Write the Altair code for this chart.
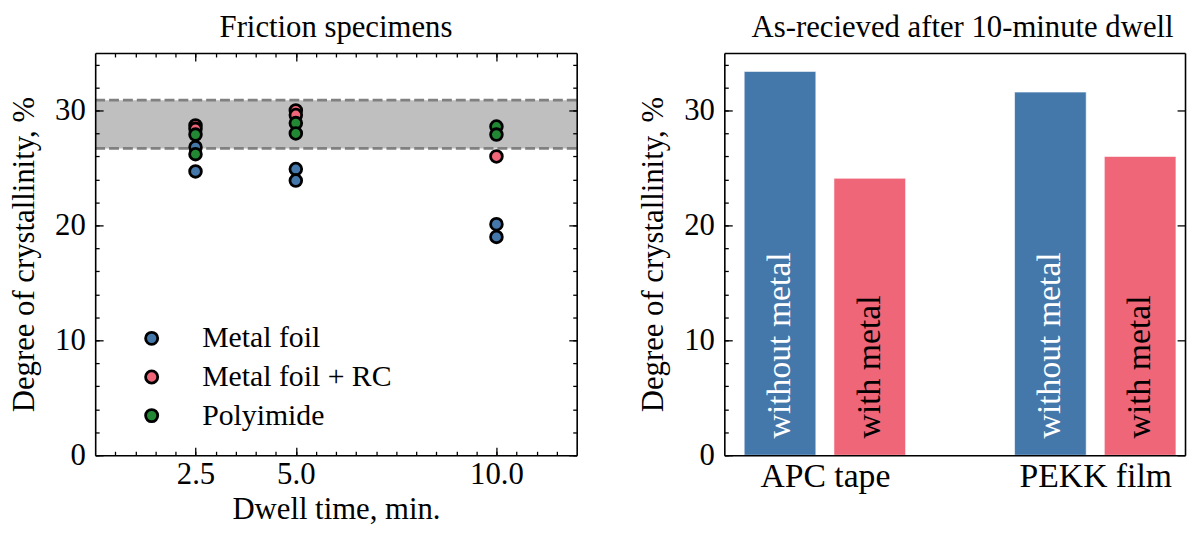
import json
import altair as alt
import pandas as pd

# ---------------- data ----------------
series_names = ["Metal foil", "Metal foil + RC", "Polyimide"]
series_colors = ["#4477AA", "#EE6677", "#228833"]

metal_foil_x = [2.5, 2.5, 5.0, 5.0, 10.0, 10.0]
metal_foil_y = [26.8, 24.7, 24.9, 23.9, 20.1, 19.0]
rc_x = [2.5, 2.5, 5.0, 5.0, 10.0]
rc_y = [28.7, 28.4, 30.0, 29.6, 26.0]
polyimide_x = [2.5, 2.5, 5.0, 5.0, 10.0, 10.0]
polyimide_y = [27.9, 26.2, 28.9, 28.0, 28.6, 27.9]

band_limits = [26.7, 30.9]
dwell_ticks = [2.5, 5.0, 10.0]
y_ticks = [0, 10, 20, 30]

groups = ["APC tape", "PEKK film"]
bar_series = ["without metal", "with metal"]
without_metal = [33.4, 31.6]
with_metal = [24.1, 26.0]
bar_colors = ["#4477AA", "#EE6677"]
bar_text_colors = ["white", "black"]

# ---------------- tables ----------------
rows = []
for name, xs_, ys_ in zip(series_names, [metal_foil_x, rc_x, polyimide_x],
                          [metal_foil_y, rc_y, polyimide_y]):
    for xv, yv in zip(xs_, ys_):
        rows.append({"series": name, "dwell": xv, "value": yv})
pts_df = pd.DataFrame(rows)
band_df = pd.DataFrame({"lo": [band_limits[0]], "hi": [band_limits[1]]})
line_df = pd.DataFrame({"y": band_limits})

brows = []
for gi, g in enumerate(groups):
    for si, (s, vals) in enumerate(zip(bar_series, [without_metal, with_metal])):
        brows.append({"group": g, "gi": gi, "series": s, "si": si, "value": vals[gi]})
bar_df = pd.DataFrame(brows)

# ---------------- layout constants ----------------
FONT = "Liberation Serif"
W1, W2, H = 486, 465, 406
BAR_OFF, BAR_HALF = 0.166, 0.1325

ys = alt.Scale(domain=[0, 35], nice=False, zero=False)
xs1 = alt.Scale(domain=[0, 12], nice=False, zero=False)
xs2 = alt.Scale(domain=[-0.372, 1.332], nice=False, zero=False)

minor_x = [0.5 * i for i in range(1, 24)]
minor_y = list(range(0, 36, 2))


def inward(orient, offset, values=None, size=8, domain=False, ticks=True):
    kw = dict(orient=orient, offset=offset, labels=False, title=None,
              ticks=ticks, tickSize=size, tickColor="black", tickWidth=1.3,
              domain=domain, domainColor="black", domainWidth=1.6,
              grid=False, zindex=2)
    if values is not None:
        kw["values"] = values
    return alt.Axis(**kw)


lab_style = dict(labelFont=FONT, labelColor="black",
                 titleFont=FONT, titleColor="black",
                 titleFontWeight="normal", ticks=False, domain=False, grid=False)

# ---------------- left panel ----------------
band = alt.Chart(band_df).mark_rect(color="#bfbfbf").encode(
    y=alt.Y("lo:Q", scale=ys, axis=None), y2="hi:Q",
    x=alt.value(0), x2=alt.value(W1))
dlines = alt.Chart(line_df).mark_rule(color="#808080", strokeWidth=2.8,
                                      strokeDash=[10, 4]).encode(
    y=alt.Y("y:Q", scale=ys, axis=None))

points = alt.Chart(pts_df).mark_circle(size=140, stroke="black", strokeWidth=2.8,
                                       opacity=1).encode(
    x=alt.X("dwell:Q", scale=xs1,
            axis=alt.Axis(orient="bottom", values=dwell_ticks, format=".1f",
                          labelPadding=5, labelFontSize=31,
                          title="Dwell time, min.", titleFontSize=31,
                          titleY=64, titleBaseline="alphabetic", **lab_style)),
    y=alt.Y("value:Q", scale=ys,
            axis=alt.Axis(orient="left", values=y_ticks, labelPadding=10,
                          labelFontSize=31, title="Degree of crystallinity, %",
                          titleFontSize=31, titlePadding=14, **lab_style)),
    color=alt.Color("series:N",
                    scale=alt.Scale(domain=series_names, range=series_colors),
                    legend=alt.Legend(orient="none", legendX=42, legendY=273,
                                      title=None, symbolType="circle",
                                      symbolSize=150, symbolStrokeColor="black",
                                      symbolStrokeWidth=2.8, labelFont=FONT,
                                      labelFontSize=30, labelColor="black",
                                      labelLimit=0, labelOffset=36,
                                      rowPadding=9, padding=0)))

ghost = alt.Chart(pts_df).mark_point(opacity=0)
l_ax1 = ghost.encode(
    x=alt.X("dwell:Q", scale=xs1, axis=inward("top", -H, dwell_ticks, 8, True)),
    y=alt.Y("value:Q", scale=ys, axis=inward("right", -W1, y_ticks, 8, True)))
l_ax2 = ghost.encode(
    x=alt.X("dwell:Q", scale=xs1, axis=inward("top", -H, minor_x, 4)),
    y=alt.Y("value:Q", scale=ys, axis=inward("right", -W1, minor_y, 4)))
l_ax3 = ghost.encode(
    x=alt.X("dwell:Q", scale=xs1, axis=inward("bottom", -H, dwell_ticks, 8, True)),
    y=alt.Y("value:Q", scale=ys, axis=inward("left", -W1, y_ticks, 8, True)))
l_ax4 = ghost.encode(
    x=alt.X("dwell:Q", scale=xs1, axis=inward("bottom", -H, minor_x, 4)),
    y=alt.Y("value:Q", scale=ys, axis=inward("left", -W1, minor_y, 4)))

left = alt.layer(band, dlines, points, l_ax1, l_ax2, l_ax3, l_ax4).resolve_axis(
    x="independent", y="independent").properties(
    width=W1, height=H,
    title=alt.TitleParams("Friction specimens", font=FONT, fontSize=31,
                          fontWeight="normal", color="black",
                          baseline="alphabetic", offset=-15))

# ---------------- right panel ----------------
bar_base = alt.Chart(bar_df).transform_calculate(
    pos=f"datum.gi + (datum.si - 0.5) * {2 * BAR_OFF}",
    zero="0").transform_calculate(
    lo=f"datum.pos - {BAR_HALF}", hi=f"datum.pos + {BAR_HALF}")

label_expr = f"{json.dumps(groups)}[datum.value]"
bars = bar_base.mark_rect(stroke="white", strokeWidth=0.6).encode(
    x=alt.X("lo:Q", scale=xs2,
            axis=alt.Axis(orient="bottom", values=[0, 1], labelExpr=label_expr,
                          labelPadding=5, labelFontSize=34, title=None,
                          **lab_style)),
    x2="hi:Q",
    y=alt.Y("value:Q", scale=ys,
            axis=alt.Axis(orient="left", values=y_ticks, labelPadding=10,
                          labelFontSize=31, title="Degree of crystallinity, %",
                          titleFontSize=31, titlePadding=14, **lab_style)),
    y2="zero:Q",
    color=alt.Color("series:N", scale=alt.Scale(domain=bar_series, range=bar_colors),
                    legend=None))

texts = bar_base.mark_text(angle=270, align="left", baseline="middle", dx=17,
                           font=FONT, fontSize=34).encode(
    x=alt.X("pos:Q", scale=xs2, axis=None),
    y=alt.Y("zero:Q", scale=ys, axis=None),
    text="series:N",
    color=alt.Color("series:N",
                    scale=alt.Scale(domain=bar_series, range=bar_text_colors),
                    legend=None))

rghost = bar_base.mark_point(opacity=0)
r_ax1 = rghost.encode(
    x=alt.X("pos:Q", scale=xs2, axis=inward("top", -H, None, 0, True, ticks=False)),
    y=alt.Y("value:Q", scale=ys, axis=inward("right", -W2, y_ticks, 8, True)))
r_ax2 = rghost.encode(
    x=alt.X("pos:Q", scale=xs2, axis=None),
    y=alt.Y("value:Q", scale=ys, axis=inward("right", -W2, minor_y, 4)))
r_ax3 = rghost.encode(
    x=alt.X("pos:Q", scale=xs2, axis=inward("bottom", -H, None, 0, True, ticks=False)),
    y=alt.Y("value:Q", scale=ys, axis=inward("left", -W2, y_ticks, 8, True)))

right = alt.layer(bars, texts, r_ax1, r_ax2, r_ax3).resolve_scale(
    color="independent").resolve_axis(x="independent", y="independent").properties(
    width=W2, height=H,
    title=alt.TitleParams("As-recieved after 10-minute dwell", font=FONT,
                          fontSize=31, fontWeight="normal", color="black",
                          baseline="alphabetic", offset=-15, dx=8))

chart = alt.hconcat(left, right, spacing=59).properties(
    padding={"left": 0, "top": 0, "right": 0, "bottom": 0}
).configure_view(stroke=None).configure(font=FONT)

chart.save("out.html", embed_options={"renderer": "svg", "actions": False})
